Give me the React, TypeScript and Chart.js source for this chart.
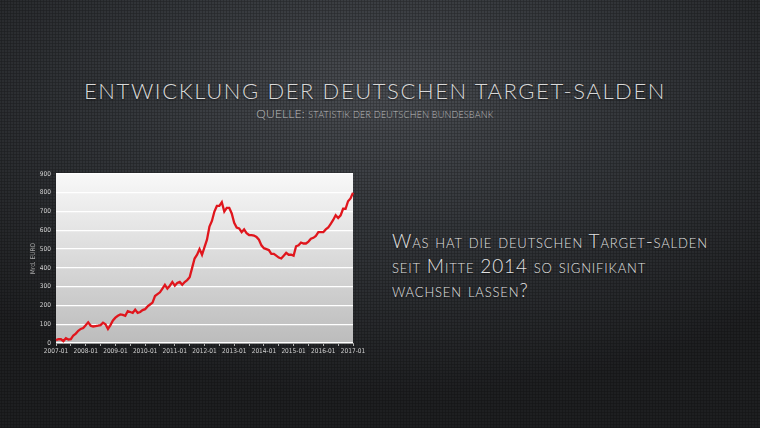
import React, { useEffect, useRef } from "react";
import { Chart, registerables } from "chart.js";

Chart.register(...registerables);

// Year tick labels (every 12 months)
const yearLabels = ["2007-01", "2008-01", "2009-01", "2010-01", "2011-01", "2012-01", "2013-01", "2014-01", "2015-01", "2016-01", "2017-01"];

// Monthly TARGET2 balance of the Bundesbank, Mrd. EURO (2007-01 .. 2017-01)
const saldo2007 = [15, 20, 20, 10, 25, 18, 20, 40, 50, 65, 75, 80];
const saldo2008 = [95, 110, 92, 88, 90, 92, 95, 108, 100, 75, 95, 120];
const saldo2009 = [135, 145, 152, 150, 145, 170, 165, 160, 178, 160, 165, 175];
const saldo2010 = [180, 195, 205, 215, 250, 260, 270, 290, 310, 290, 305, 325];
const saldo2011 = [305, 320, 325, 310, 325, 335, 350, 400, 450, 470, 500, 470];
const saldo2012 = [510, 550, 620, 650, 700, 730, 730, 750, 700, 720, 720, 690];
const saldo2013 = [640, 615, 610, 590, 605, 585, 575, 575, 572, 565, 550, 520];
const saldo2014 = [505, 500, 495, 475, 475, 465, 455, 450, 465, 480, 470, 470];
const saldo2015 = [465, 515, 520, 535, 530, 530, 540, 555, 560, 570, 590, 590];
const saldo2016 = [590, 605, 615, 635, 655, 680, 665, 680, 715, 715, 755, 770];
const saldo2017 = [800];

const yTicks = [0, 100, 200, 300, 400, 500, 600, 700, 800, 900];

const values = [
  ...saldo2007, ...saldo2008, ...saldo2009, ...saldo2010, ...saldo2011, ...saldo2012,
  ...saldo2013, ...saldo2014, ...saldo2015, ...saldo2016, ...saldo2017,
];

const months: string[] = [];
yearLabels.forEach((yl, yi) => {
  const year = yl.slice(0, 4);
  const count = yi === yearLabels.length - 1 ? 1 : 12;
  for (let m = 1; m <= count; m++) months.push(`${year}-${String(m).padStart(2, "0")}`);
});

const plotBg = {
  id: "plotBg",
  beforeDraw(chart: any) {
    const { ctx, chartArea } = chart;
    if (!chartArea) return;
    const g = ctx.createLinearGradient(0, chartArea.top, 0, chartArea.bottom);
    g.addColorStop(0, "#f8f8f8");
    g.addColorStop(1, "#bcbcbc");
    ctx.save();
    ctx.fillStyle = g;
    ctx.fillRect(chartArea.left, chartArea.top, chartArea.right - chartArea.left, chartArea.bottom - chartArea.top);
    ctx.restore();
  },
};

const tickFont = { family: "'DejaVu Sans Condensed', 'Liberation Sans Narrow', Arial, sans-serif", size: 6.5 };

function TargetChart() {
  const ref = useRef<HTMLCanvasElement | null>(null);
  useEffect(() => {
    if (!ref.current) return;
    const chart = new Chart(ref.current, {
      type: "line",
      data: {
        labels: months,
        datasets: [
          {
            data: values,
            borderColor: "#e0161d",
            borderWidth: 2.3,
            pointRadius: 0,
            tension: 0,
            fill: false,
          },
        ],
      },
      options: {
        animation: false,
        responsive: true,
        maintainAspectRatio: false,
        layout: { padding: { top: 14, right: 16, bottom: 0, left: 0 } },
        plugins: { legend: { display: false }, tooltip: { enabled: false } },
        scales: {
          x: {
            type: "category",
            offset: false,
            border: { display: true, color: "#9a9a9a" },
            grid: {
              drawOnChartArea: false,
              drawTicks: true,
              tickLength: 3,
              tickColor: (c: any) => (c.index % 6 === 0 ? "#b0b0b0" : "rgba(0,0,0,0)"),
            },
            ticks: {
              autoSkip: false,
              maxRotation: 0,
              minRotation: 0,
              padding: 1,
              color: "#d0d0d0",
              font: tickFont,
              callback: (_v: any, i: number) => (yearLabels.includes(months[i]) ? months[i] : ""),
            },
            afterFit: (s: any) => {
              s.height = 17;
              s.paddingLeft = 0;
              s.paddingRight = 0;
            },
          },
          y: {
            min: 0,
            max: 900,
            afterBuildTicks: (s: any) => {
              s.ticks = yTicks.map((v) => ({ value: v }));
            },
            border: { display: false },
            grid: { color: "#ffffff", lineWidth: 1.3, drawTicks: false },
            ticks: { color: "#d0d0d0", font: tickFont, padding: 5 },
            title: {
              display: true,
              text: "Mrd. EURO",
              color: "#a8a8a8",
              font: tickFont,
              padding: { top: 3, bottom: 0 },
            },
            afterFit: (s: any) => {
              s.width = 30;
              s.paddingTop = 0;
              s.paddingBottom = 0;
            },
          },
        },
      },
      plugins: [plotBg],
    });
    return () => chart.destroy();
  }, []);
  return (
    <div style={{ position: "absolute", left: 26, top: 160, width: 343, height: 200 }}>
      <canvas ref={ref} />
    </div>
  );
}

export default function App() {
  const font = "Lato, 'Open Sans', sans-serif";
  return (
    <div
      style={{
        position: "fixed",
        left: 0,
        top: 0,
        width: 760,
        height: 428,
        overflow: "hidden",
        backgroundColor: "#25272a",
        backgroundImage:
          "radial-gradient(circle, rgba(0,0,0,0.28) 0.9px, rgba(0,0,0,0) 1.3px), radial-gradient(ellipse 75% 70% at 50% 22%, #4a4d52 0%, #34373b 45%, #1e1f21 100%)",
        backgroundSize: "3px 3px, 100% 100%",
        fontFamily: font,
      }}
    >
      <div
        style={{
          position: "absolute",
          left: 0,
          width: 750,
          top: 77,
          textAlign: "center",
          color: "#d8d8d8",
          fontSize: 22,
          fontWeight: 300,
          letterSpacing: 1.6,
          lineHeight: "28px",
          whiteSpace: "nowrap",
          textShadow: "0 1px 2px rgba(0,0,0,0.6)",
        }}
      >
        ENTWICKLUNG DER DEUTSCHEN TARGET-SALDEN
      </div>
      <div
        style={{
          position: "absolute",
          left: 0,
          width: 750,
          top: 107,
          textAlign: "center",
          color: "#bcbcbc",
          fontSize: 12,
          fontWeight: 300,
          letterSpacing: 0.2,
          lineHeight: "14px",
          whiteSpace: "nowrap",
        }}
      >
        QUELLE: <span style={{ fontSize: 9 }}>STATISTIK DER DEUTSCHEN BUNDESBANK</span>
      </div>
      <TargetChart />
      <div
        style={{
          position: "absolute",
          left: 392,
          top: 229,
          color: "#e2e2e2",
          fontSize: 19,
          fontWeight: 300,
          letterSpacing: 0.85,
          lineHeight: "24.5px",
          fontVariant: "small-caps",
          whiteSpace: "nowrap",
          textShadow: "0 1px 2px rgba(0,0,0,0.6)",
        }}
      >
        <div>Was hat die deutschen Target-salden</div>
        <div>seit Mitte 2014 so signifikant</div>
        <div>wachsen lassen?</div>
      </div>
    </div>
  );
}
